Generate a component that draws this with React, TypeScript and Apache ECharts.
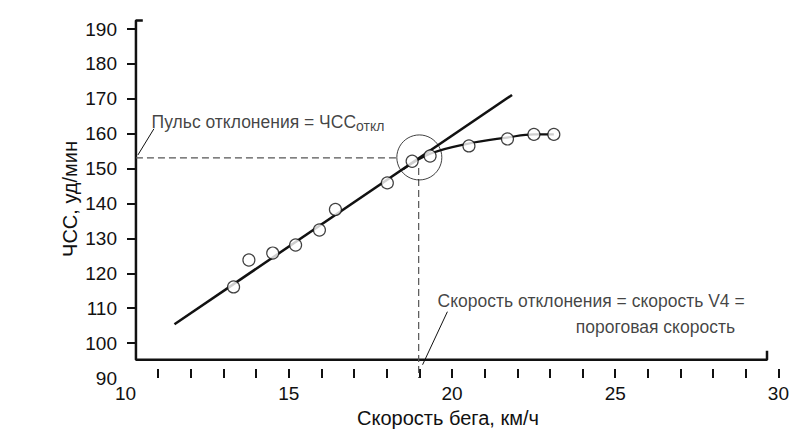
import React, { useEffect, useRef } from "react";
import * as echarts from "echarts";

// Measured points (speed km/h, heart rate bpm)
const speed = [13.31, 13.78, 14.51, 15.21, 15.94, 16.43, 18.02, 18.78, 19.33, 20.52, 21.7, 22.51, 23.12];
const heartRate = [116.1, 123.8, 125.8, 128.1, 132.4, 138.3, 145.9, 152.1, 153.6, 156.5, 158.5, 159.8, 159.8];

// Linear part (straight line)
const linearSpeed = [11.5, 21.84];
const linearHR = [105.4, 171.1];

// Flattening curve
const curveSpeed = [18.5, 19.35, 20.47, 21.69, 22.51, 23.12];
const curveHR = [149.8, 154.3, 157.1, 158.9, 159.8, 159.8];

// Deflection point
const deflectionSpeed = 19.0;
const deflectionHR = 153.2;

// Axis frame drawn as in the figure
const frameSpeed = [10.53, 10.32, 10.32, 29.65, 29.65];
const frameHR = [192.4, 192.4, 95.2, 95.2, 97.8];

// Dashed guides
const hDashSpeed = [10.32, 18.31];
const hDashHR = [153.1, 153.1];
const vDashSpeed = [18.98, 18.98];
const vDashHR = [150.2, 90];

// Leader lines
const leaderASpeed = [10.38, 10.87];
const leaderAHR = [153.9, 161.4];
const leaderBSpeed = [19.86, 19.1];
const leaderBHR = [109.0, 93.8];

// Ticks and labels
const xTickValues = [11, 12, 13, 14, 15, 16, 17, 18, 19, 20, 21, 22, 23, 24, 25, 26, 27, 28, 29, 30];
const xLabelValues = [10, 15, 20, 25, 30];
const yTickValues = [100, 110, 120, 130, 140, 150, 160, 170, 180, 190];
const yLabelValues = [90, 100, 110, 120, 130, 140, 150, 160, 170, 180, 190];

// Annotation anchors
const noteAPos = [10.8, 163.3];
const noteBLine1Pos = [19.56, 112.1];
const noteBLine2Pos = [28.67, 104.7];

const xTitle = "Скорость бега, км/ч";
const yTitle = "ЧСС, уд/мин";

const FONT = "'Liberation Sans', Arial, sans-serif";
const INK = "#111";

const zip = (a: number[], b: number[]) => a.map((v, i) => [v, b[i]]);

export default function App() {
  const ref = useRef<HTMLDivElement>(null);
  useEffect(() => {
    if (!ref.current) return;
    const chart = echarts.init(ref.current, null, { renderer: "svg" });
    const plainLine = (data: number[][], width: number, type: any = "solid", color = INK, smooth: any = false) => ({
      type: "line",
      data,
      symbol: "none",
      clip: false,
      smooth,
      silent: true,
      lineStyle: { color, width, type },
      z: 2,
    });
    chart.setOption({
      animation: false,
      grid: { left: 125.5, right: 9, top: 29, bottom: 52 },
      xAxis: {
        type: "value",
        min: 10,
        max: 30,
        axisLine: { show: false },
        splitLine: { show: false },
        axisTick: { show: true, inside: true, length: 9, customValues: xTickValues, lineStyle: { color: INK, width: 2 } },
        axisLabel: {
          customValues: xLabelValues,
          showMinLabel: true,
          showMaxLabel: true,
          margin: 5,
          fontSize: 19,
          lineHeight: 20,
          fontFamily: FONT,
          color: INK,
        },
      },
      yAxis: {
        type: "value",
        min: 90,
        max: 190,
        offset: -10.5,
        axisLine: { show: false },
        splitLine: { show: false },
        axisTick: { show: true, length: 9, customValues: yTickValues, lineStyle: { color: INK, width: 2 } },
        axisLabel: {
          customValues: yLabelValues,
          showMinLabel: true,
          showMaxLabel: true,
          margin: 19,
          fontSize: 19,
          fontFamily: FONT,
          color: INK,
        },
      },
      graphic: [
        {
          type: "text",
          x: 448,
          y: 418,
          style: { text: xTitle, font: `20px ${FONT}`, fill: INK, align: "center", verticalAlign: "middle" },
        },
        {
          type: "text",
          x: 70,
          y: 199,
          rotation: Math.PI / 2,
          style: { text: yTitle, font: `20px ${FONT}`, fill: INK, align: "center", verticalAlign: "middle" },
        },
      ],
      series: [
        plainLine(zip(frameSpeed, frameHR), 2.5),
        plainLine(zip(hDashSpeed, hDashHR), 1.2, [7, 4], "#555"),
        plainLine(zip(vDashSpeed, vDashHR), 1.2, [7, 4], "#555"),
        plainLine(zip(leaderASpeed, leaderAHR), 1),
        plainLine(zip(leaderBSpeed, leaderBHR), 1),
        plainLine(zip(linearSpeed, linearHR), 2.5),
        plainLine(zip(curveSpeed, curveHR), 2.2, "solid", INK, 0.4),
        {
          type: "scatter",
          data: [[deflectionSpeed, deflectionHR]],
          symbol: "circle",
          symbolSize: 45,
          silent: true,
          itemStyle: { color: "rgba(0,0,0,0)", borderColor: INK, borderWidth: 1 },
          z: 3,
        },
        {
          type: "scatter",
          data: zip(speed, heartRate),
          symbol: "circle",
          symbolSize: 12,
          silent: true,
          itemStyle: { color: "#fff", borderColor: INK, borderWidth: 1.2 },
          z: 4,
        },
        {
          type: "scatter",
          symbolSize: 0,
          silent: true,
          clip: false,
          z: 5,
          data: [
            {
              value: noteAPos,
              label: {
                show: true,
                position: "right",
                distance: 0,
                formatter: "{a|Пульс отклонения = ЧСС}{s|откл}",
                rich: {
                  a: { fontSize: 17.5, fontFamily: FONT, color: INK, lineHeight: 22, verticalAlign: "middle" },
                  s: { fontSize: 14, fontFamily: FONT, color: INK, lineHeight: 22, verticalAlign: "bottom" },
                },
              },
            },
            {
              value: noteBLine1Pos,
              label: {
                show: true,
                position: "right",
                distance: 0,
                formatter: "Скорость отклонения = скорость V4 =",
                fontSize: 17.5,
                fontFamily: FONT,
                color: INK,
              },
            },
            {
              value: noteBLine2Pos,
              label: {
                show: true,
                position: "left",
                distance: 0,
                formatter: "пороговая скорость",
                fontSize: 17.5,
                fontFamily: FONT,
                color: INK,
              },
            },
          ],
        },
      ],
    });
    return () => chart.dispose();
  }, []);
  return (
    <div
      ref={ref}
      style={{ position: "fixed", left: 0, top: 0, width: 792, height: 430, background: "#fff" }}
    />
  );
}
